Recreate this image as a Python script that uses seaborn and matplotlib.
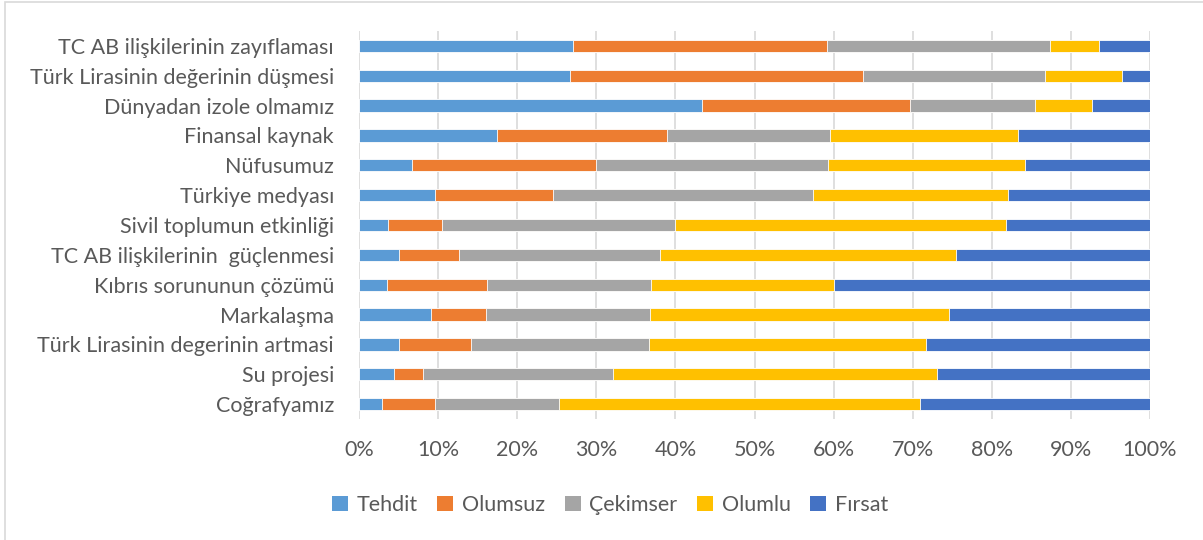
import matplotlib
matplotlib.use("Agg")
import matplotlib.pyplot as plt
import seaborn as sns
import pandas as pd
import numpy as np
from matplotlib.patches import Rectangle, Patch

categories = [
    "TC AB ilişkilerinin zayıflaması",
    "Türk Lirasinin değerinin düşmesi",
    "Dünyadan izole olmamız",
    "Finansal kaynak",
    "Nüfusumuz",
    "Türkiye medyası",
    "Sivil toplumun etkinliği",
    "TC AB ilişkilerinin  güçlenmesi",
    "Kıbrıs sorununun çözümü",
    "Markalaşma",
    "Türk Lirasinin degerinin artmasi",
    "Su projesi",
    "Coğrafyamız",
]
series_names = ["Tehdit", "Olumsuz", "Çekimser", "Olumlu", "Fırsat"]
tehdit   = [27.1, 26.7, 43.4, 17.5, 6.7, 9.6, 3.7, 5.1, 3.5, 9.1, 5.1, 4.4, 2.9]
olumsuz  = [32.1, 37.0, 26.2, 21.5, 23.3, 14.9, 6.8, 7.6, 12.7, 6.9, 9.0, 3.7, 6.7]
cekimser = [28.1, 23.0, 15.9, 20.6, 29.3, 32.9, 29.5, 25.3, 20.7, 20.8, 22.5, 24.0, 15.7]
olumlu   = [6.3, 9.7, 7.2, 23.7, 24.9, 24.6, 41.8, 37.5, 23.1, 37.8, 35.1, 41.0, 45.6]
firsat   = [6.4, 3.6, 7.3, 16.7, 15.8, 18.0, 18.2, 24.5, 40.0, 25.4, 28.3, 26.9, 29.1]
xticks = [0, 10, 20, 30, 40, 50, 60, 70, 80, 90, 100]
colors = ["#5B9BD5", "#ED7D31", "#A5A5A5", "#FFC000", "#4472C4"]

sns.set_theme(style="white")
plt.rcParams["font.family"] = ["Lato", "DejaVu Sans"]
text_color = "#595959"
fs = 15.5

W, H = 1203, 540
fig = plt.figure(figsize=(W / 100, H / 100), dpi=100)
ax = fig.add_axes([359 / W, 1 - 419 / H, (1150 - 359) / W, (419 - 31) / H])

# chart frame
fig.patches.append(Rectangle((5 / W, -0.1), 1.2, 1 - 2 / H + 0.1, transform=fig.transFigure,
                             fill=False, edgecolor="#D9D9D9", linewidth=1.2, zorder=0))

vals = np.array([tehdit, olumsuz, cekimser, olumlu, firsat], dtype=float)
totals = vals.sum(axis=0)
pct = vals / totals * 100
cum = np.cumsum(pct, axis=0)

for i in range(len(series_names) - 1, -1, -1):
    df = pd.DataFrame({"cat": categories, "val": cum[i]})
    sns.barplot(data=df, x="val", y="cat", orient="h", color=colors[i], ax=ax,
                width=0.41, saturation=1, edgecolor="white", linewidth=0.6, zorder=3)

ax.set_xlim(0, 100)
ax.set_ylim(12.5, -0.5)
ax.set_xticks(xticks)
ax.set_xticklabels([f"{t}%" for t in xticks])
ax.set_xlabel("")
ax.set_ylabel("")
for s in ax.spines.values():
    s.set_visible(False)
ax.grid(False)
for t in xticks:
    ax.axvline(t, color="#D9D9D9", linewidth=1.2, zorder=1)
ax.tick_params(axis="both", length=0, labelsize=fs, labelcolor=text_color)
ax.tick_params(axis="x", pad=15)
ax.tick_params(axis="y", pad=18)

handles = [Patch(facecolor=c, edgecolor="none") for c in colors]
fig.legend(handles, series_names, loc="center", bbox_to_anchor=(610 / W, 1 - 505 / H),
           ncol=5, frameon=False, fontsize=fs, labelcolor=text_color,
           handlelength=0.75, handleheight=0.75, handletextpad=0.4, columnspacing=0.9)

fig.savefig("out.png", dpi=100)
